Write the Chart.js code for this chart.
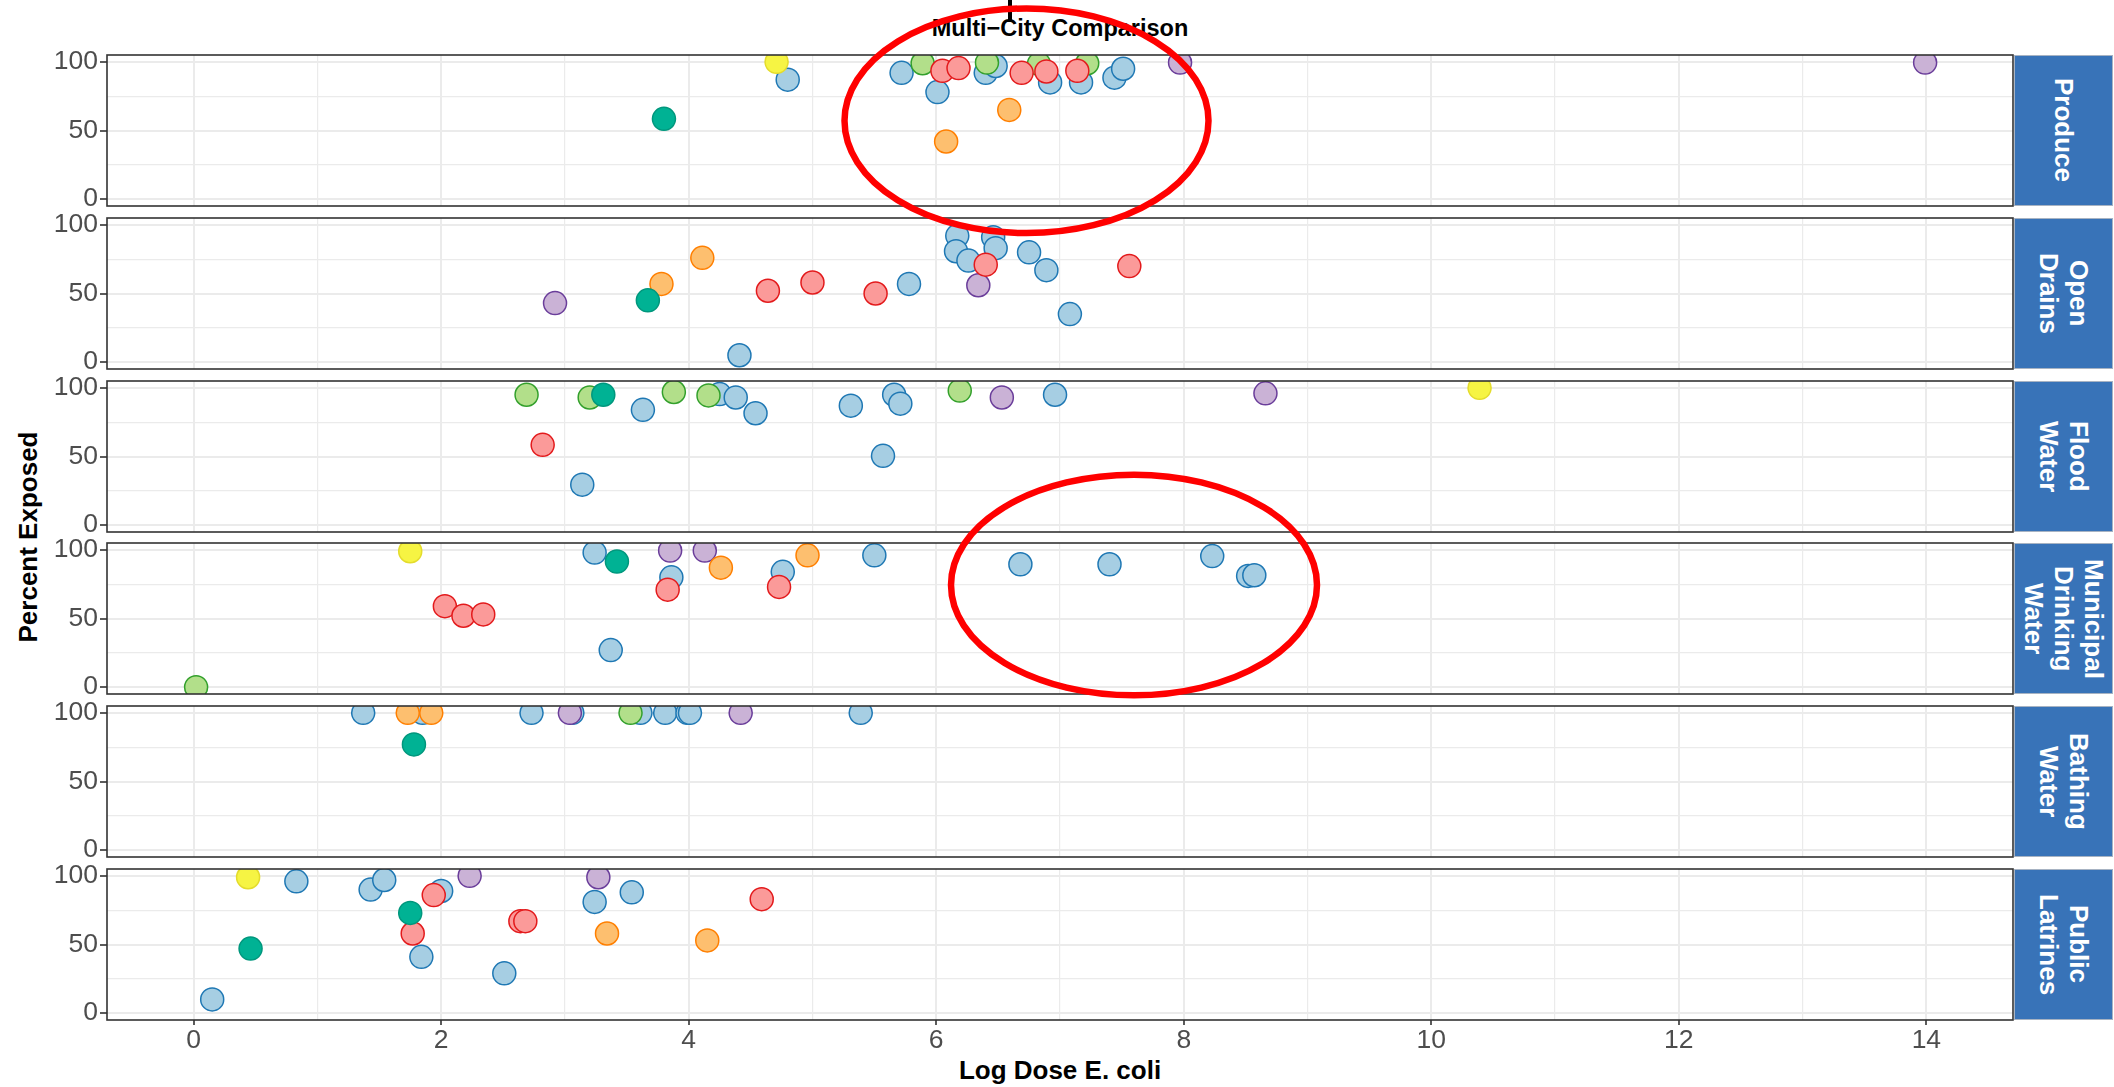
<!DOCTYPE html>
<html>
<head>
<meta charset="utf-8">
<title>Multi-City Comparison</title>
<script src="https://cdn.jsdelivr.net/npm/chart.js@4.4.1/dist/chart.umd.min.js"></script>
<style>
  html, body { margin: 0; padding: 0; background: #ffffff; }
  #wrap { position: relative; width: 2114px; height: 1087px; overflow: hidden;
          font-family: 'Liberation Sans', Arial, Helvetica, sans-serif; }
  #wrap canvas { position: absolute; left: 0; }
  .txt { position: absolute; white-space: nowrap; line-height: 1; color: #000; font-weight: bold; }
  .strip { position: absolute; left: 2014px; width: 99px; background: #3873B8;
           box-sizing: border-box; border: 1px solid #A7B3C3;
           display: flex; align-items: center; justify-content: center; }
  .strip span { writing-mode: vertical-rl; color: #ffffff; font-weight: bold; font-size: 26px;
                line-height: 30px; text-align: center; white-space: pre-line; }
  #notes { position: absolute; left: 0; top: 0; pointer-events: none; }
</style>
</head>
<body>
<div id="wrap">
  <div style="position:absolute;left:1008px;top:0;width:4px;height:22px;background:#000"></div>
  <div class="txt" id="title" style="left:1060px;top:17px;font-size:23.5px;transform:translateX(-50%)"></div>
  <div class="txt" id="xTitle" style="left:1060px;top:1057px;font-size:26px;transform:translateX(-50%)"></div>
  <div class="txt" id="yTitle" style="left:28px;top:537px;font-size:26px;transform:translate(-50%,-50%) rotate(-90deg)"></div>
  <svg id="notes" width="2114" height="1087"></svg>
</div>
<script>
// ---- chart text ----
const chartTitle = 'Multi\u2212City Comparison';
const xAxisTitle = 'Log Dose E. coli';
const yAxisTitle = 'Percent Exposed';
const facetLabels = ['Produce', 'Open\nDrains', 'Flood\nWater', 'Municipal\nDrinking\nWater', 'Bathing\nWater', 'Public\nLatrines'];

// ---- axis ticks ----
const xMajorTicks = [0, 2, 4, 6, 8, 10, 12, 14];
const xMinorTicks = [1, 3, 5, 7, 9, 11, 13];
const yMajorTicks = [0, 50, 100];
const yMinorTicks = [25, 75];
const xRange = [-0.7, 14.7];
const yRange = [-5, 105];

// ---- data: log dose, percent exposed and city code for every point ----
const produceDose = [4.80, 5.72, 6.01, 6.40, 6.48, 6.92, 7.17, 7.44, 7.51, 5.89, 6.41, 6.83, 7.22, 6.05, 6.18, 6.69, 6.89, 7.14, 6.08, 6.59, 7.97, 13.99, 4.71, 3.80];
const producePct  = [87, 92, 78, 92, 97, 85, 85, 88.5, 95, 99, 99.5, 98.5, 99, 93.5, 95.5, 92, 93, 93.5, 42, 65, 99.5, 99.5, 100, 58.5];
const produceCity = ['A','A','A','A','A','A','A','A','A','B','B','B','B','C','C','C','C','C','D','D','E','E','F','G'];

const drainsDose = [4.41, 5.78, 6.17, 6.16, 6.26, 6.46, 6.48, 6.75, 6.89, 7.08, 4.64, 5.00, 5.51, 6.40, 7.56, 3.78, 4.11, 2.92, 6.34, 3.67];
const drainsPct  = [5, 57, 92, 80.8, 74, 91, 83, 80, 67, 35, 52, 58, 50, 71, 70, 57, 76, 43, 56, 45];
const drainsCity = ['A','A','A','A','A','A','A','A','A','A','C','C','C','C','C','D','D','E','E','G'];

const floodDose = [3.14, 3.63, 4.25, 4.38, 4.54, 5.31, 5.57, 5.66, 5.71, 6.96, 2.69, 3.20, 3.88, 4.16, 6.19, 2.82, 6.53, 8.66, 10.39, 3.31];
const floodPct  = [29.5, 84, 95.5, 93, 81.5, 87, 50.5, 95, 88.5, 95, 95, 93, 97, 94.5, 98, 58.5, 93, 96, 100, 95];
const floodCity = ['A','A','A','A','A','A','A','A','A','A','B','B','B','B','B','C','E','E','F','G'];

const municipalDose = [3.24, 3.37, 3.86, 4.76, 5.50, 6.68, 7.40, 8.23, 8.52, 8.57, 0.02, 2.03, 2.18, 2.34, 3.83, 4.73, 4.26, 4.96, 3.85, 4.13, 1.75, 3.42];
const municipalPct  = [98, 27, 80, 84, 96, 89.5, 89.5, 95.5, 81, 81.5, 0, 59, 52, 53, 71, 73, 87, 96, 99.5, 99.5, 99, 91.5];
const municipalCity = ['A','A','A','A','A','A','A','A','A','A','B','C','C','C','C','C','D','D','E','E','F','G'];

const bathingDose = [1.37, 1.85, 2.73, 3.06, 3.61, 3.81, 3.99, 4.01, 5.39, 3.53, 1.73, 1.92, 3.04, 4.42, 1.78];
const bathingPct  = [100, 100, 100, 100, 100, 100, 100, 100, 100, 100, 100, 100, 100, 100, 77];
const bathingCity = ['A','A','A','A','A','A','A','A','A','B','D','D','E','E','G'];

const latrinesDose = [0.15, 0.83, 1.43, 1.54, 1.84, 2.00, 2.51, 3.24, 3.54, 1.77, 1.94, 2.64, 2.68, 4.59, 3.34, 4.15, 2.23, 3.27, 0.44, 0.46, 1.75];
const latrinesPct  = [10, 96, 90, 97, 41, 89, 29, 81, 88, 58, 86, 67, 67, 83, 58, 53, 100, 99, 99, 47, 73];
const latrinesCity = ['A','A','A','A','A','A','A','A','A','C','C','C','C','C','D','D','E','E','F','G','G'];

const facetData = [
  [produceDose, producePct, produceCity],
  [drainsDose, drainsPct, drainsCity],
  [floodDose, floodPct, floodCity],
  [municipalDose, municipalPct, municipalCity],
  [bathingDose, bathingPct, bathingCity],
  [latrinesDose, latrinesPct, latrinesCity]
];

// ---- styling ----
const FONT = "'Liberation Sans', Arial, Helvetica, sans-serif";
const cityStyle = {
  A: { fill: '#A6CEE3', line: '#1F78B4' },
  B: { fill: '#B2DF8A', line: '#33A02C' },
  C: { fill: '#FB9A99', line: '#E31A1C' },
  D: { fill: '#FDBF6F', line: '#FF7F00' },
  E: { fill: '#CAB2D6', line: '#6A3D9A' },
  F: { fill: '#F6F443', line: '#E4DC2C' },
  G: { fill: '#00B294', line: '#00977D' }
};
// first entry is painted last (on top)
const drawOrder = ['G', 'C', 'F', 'D', 'E', 'B', 'A'];

const panelTops = [55, 218, 381, 543, 706, 869];
const PANEL_H = 151;
const PLOT_LEFT = 107;
const PLOT_RIGHT = 2013;
const CANVAS_W = 2016;
const PAD = 4;
const AXIS_H = 58;

const wrap = document.getElementById('wrap');
document.getElementById('title').textContent = chartTitle;
document.getElementById('xTitle').textContent = xAxisTitle;
document.getElementById('yTitle').textContent = yAxisTitle;

// facet strips
facetLabels.forEach((label, i) => {
  const strip = document.createElement('div');
  strip.className = 'strip';
  strip.style.top = panelTops[i] + 'px';
  strip.style.height = PANEL_H + 'px';
  const span = document.createElement('span');
  span.textContent = label;
  strip.appendChild(span);
  wrap.appendChild(strip);
});

// annotation ellipses
const notes = document.getElementById('notes');
[[1026.5, 120.8, 182, 112.3], [1134, 585, 183, 110.3]].forEach(([cx, cy, rx, ry]) => {
  const e = document.createElementNS('http://www.w3.org/2000/svg', 'ellipse');
  e.setAttribute('cx', cx); e.setAttribute('cy', cy);
  e.setAttribute('rx', rx); e.setAttribute('ry', ry);
  e.setAttribute('fill', 'none'); e.setAttribute('stroke', '#FF0000');
  e.setAttribute('stroke-width', '6.5');
  notes.appendChild(e);
});
wrap.appendChild(notes);

const panelBorder = {
  id: 'panelBorder',
  afterDraw(chart) {
    const { ctx, chartArea: a } = chart;
    ctx.save();
    ctx.strokeStyle = '#333333';
    ctx.lineWidth = 1.6;
    ctx.strokeRect(a.left, a.top, a.right - a.left, a.bottom - a.top);
    ctx.restore();
  }
};

const isMajor = (tick, majors) => !!tick && majors.includes(tick.value);

facetData.forEach(([dose, pct, city], i) => {
  const last = i === facetData.length - 1;
  const h = PAD + PANEL_H + (last ? AXIS_H : PAD);
  const canvas = document.createElement('canvas');
  canvas.width = CANVAS_W;
  canvas.height = h;
  canvas.style.width = CANVAS_W + 'px';
  canvas.style.height = h + 'px';
  canvas.style.top = (panelTops[i] - PAD) + 'px';
  wrap.insertBefore(canvas, notes);

  const points = dose.map((x, j) => ({ x: x, y: pct[j], c: city[j] }));
  const datasets = drawOrder
    .map(c => ({
      label: 'City ' + c,
      data: points.filter(p => p.c === c),
      backgroundColor: cityStyle[c].fill,
      borderColor: cityStyle[c].line,
      borderWidth: 1.5,
      pointRadius: 11.5,
      pointHoverRadius: 11.5,
      clip: 0
    }))
    .filter(d => d.data.length > 0);

  new Chart(canvas, {
    type: 'scatter',
    data: { datasets },
    plugins: [panelBorder],
    options: {
      responsive: false,
      animation: false,
      devicePixelRatio: 1,
      events: [],
      layout: {
        autoPadding: false,
        padding: { top: PAD, left: 0, right: CANVAS_W - PLOT_RIGHT, bottom: last ? 0 : PAD }
      },
      plugins: { legend: { display: false }, tooltip: { enabled: false } },
      scales: {
        x: {
          type: 'linear',
          min: xRange[0],
          max: xRange[1],
          afterBuildTicks: s => { s.ticks = xMajorTicks.concat(xMinorTicks).sort((a, b) => a - b).map(v => ({ value: v })); },
          afterFit: s => { s.height = last ? AXIS_H : 0; s.paddingLeft = 0; s.paddingRight = 0; },
          border: { display: false },
          grid: {
            color: '#EBEBEB',
            lineWidth: c => isMajor(c.tick, xMajorTicks) ? 2 : 1.2,
            drawTicks: last,
            tickLength: 5,
            tickWidth: 1.6,
            tickColor: c => isMajor(c.tick, xMajorTicks) ? '#333333' : 'rgba(0,0,0,0)'
          },
          ticks: {
            display: last,
            autoSkip: false,
            maxRotation: 0,
            padding: 0,
            color: '#4D4D4D',
            font: { family: FONT, size: 26.5 },
            callback: v => xMajorTicks.includes(v) ? String(v) : ''
          }
        },
        y: {
          type: 'linear',
          min: yRange[0],
          max: yRange[1],
          afterBuildTicks: s => { s.ticks = yMajorTicks.concat(yMinorTicks).sort((a, b) => a - b).map(v => ({ value: v })); },
          afterFit: s => { s.width = PLOT_LEFT; s.paddingTop = 0; s.paddingBottom = 0; },
          border: { display: false },
          grid: {
            color: '#EBEBEB',
            lineWidth: c => isMajor(c.tick, yMajorTicks) ? 2 : 1.2,
            drawTicks: true,
            tickLength: 7,
            tickWidth: 1.6,
            tickColor: c => isMajor(c.tick, yMajorTicks) ? '#333333' : 'rgba(0,0,0,0)'
          },
          ticks: {
            autoSkip: false,
            padding: 2,
            color: '#4D4D4D',
            font: { family: FONT, size: 26.5 },
            callback: v => yMajorTicks.includes(v) ? String(v) : ''
          }
        }
      }
    }
  });
});
</script>
</body>
</html>
